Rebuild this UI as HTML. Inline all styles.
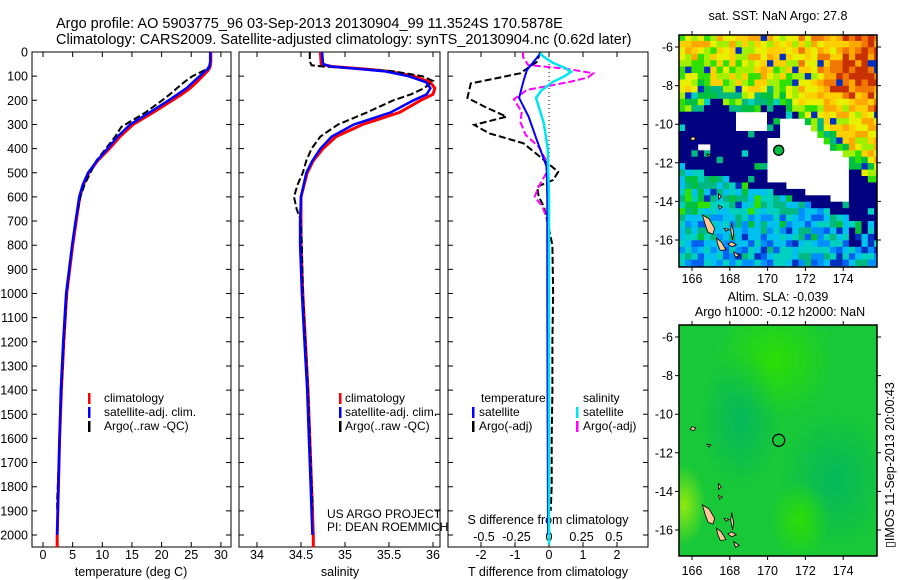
<!DOCTYPE html>
<html><head><meta charset="utf-8"><style>
body{margin:0;background:#fff}
svg{display:block;font-family:"Liberation Sans",Arial,sans-serif}
text{fill:#000}
</style></head><body>
<svg id="fig" width="900" height="580" viewBox="0 0 900 580">
<text x="56" y="28" font-size="14.5">Argo profile: AO 5903775_96 03-Sep-2013 20130904_99 11.3524S 170.5878E</text>
<text x="56" y="44" font-size="14.5">Climatology: CARS2009. Satellite-adjusted climatology: synTS_20130904.nc (0.62d later)</text>
<text x="778" y="20" font-size="12.5" text-anchor="middle">sat. SST: NaN Argo: 27.8</text>
<text x="778" y="301" font-size="12.5" text-anchor="middle">Altim. SLA: -0.039</text>
<text x="780" y="316" font-size="12.5" text-anchor="middle">Argo h1000: -0.12 h2000: NaN</text>
<text transform="translate(894,548) rotate(-90)" font-size="12.5">▯IMOS 11-Sep-2013 20:00:43</text>
</svg>
<script>
// ---- profile data ----
const tClimP=[0,20,40,60,70,80,100,125,150,175,200,250,300,350,400,450,500,550,600,700,800,900,1000,1200,1400,1600,1800,2000,2050];
const tClim=[28.3,28.3,28.3,28.2,28.0,27.7,26.9,25.9,24.8,23.4,21.8,18.6,15.2,13.0,11.2,9.2,7.7,6.8,6.2,5.6,5.0,4.5,4.0,3.5,3.1,2.8,2.6,2.4,2.4];
const tSatP=[0,20,40,60,70,80,100,125,150,175,200,250,300,350,400,450,500,550,600,700,800,900,1000,1200,1400,1600,1800,2000];
const tSat=[28.2,28.2,28.2,28.1,27.8,27.3,26.4,25.3,24.2,22.7,21.2,18.0,14.7,12.6,10.9,9.1,7.6,6.7,6.1,5.5,4.9,4.4,3.9,3.4,3.0,2.8,2.6,2.4];
const tArgoP=[0,20,40,60,70,80,100,125,150,175,200,250,290,310,350,400,450,500,550,600,650,700,800,1000,1200,1400,1600,1800,1850,1900];
const tArgo=[28.2,28.2,28.2,28.0,27.6,26.9,25.2,23.8,22.6,21.4,20.1,17.3,14.6,13.2,12.2,10.6,9.0,8.0,7.0,6.3,5.9,5.5,4.9,4.0,3.5,3.1,2.8,2.5,2.4,2.4];
const sClimP=[0,50,60,70,80,100,125,150,175,200,250,300,350,400,450,500,600,700,800,1000,1200,1400,1600,1800,2000,2050];
const sClim=[34.72,34.73,34.85,35.2,35.5,35.78,35.97,36.02,36.0,35.86,35.62,35.2,34.9,34.75,34.64,34.57,34.5,34.5,34.5,34.52,34.55,34.58,34.6,34.62,34.64,34.64];
const sSatP=[0,50,60,70,80,100,125,150,175,200,250,300,350,400,450,500,600,700,800,1000,1200,1400,1600,1800,2000];
const sSat=[34.74,34.75,34.84,35.15,35.45,35.72,35.92,35.97,35.93,35.78,35.52,35.1,34.85,34.72,34.63,34.56,34.5,34.49,34.49,34.51,34.54,34.57,34.59,34.61,34.63];
const sArgoP=[0,40,55,60,70,80,100,120,150,175,200,250,300,350,400,450,500,550,600,650,700,800,1000,1200,1400,1600,1800,1850,1900];
const sArgo=[34.6,34.6,34.62,34.75,35.2,35.55,35.88,36.0,35.9,35.75,35.55,35.25,34.92,34.72,34.62,34.56,34.52,34.46,34.42,34.45,34.5,34.51,34.52,34.55,34.58,34.6,34.62,34.63,34.63];
const dTSatP=[10,40,75,120,190,268,364,475,600,800,1000,1500,2000];
const dTSat=[-0.27,-0.45,-0.65,-0.75,-0.88,-0.6,-0.36,-0.07,-0.05,-0.05,-0.05,-0.04,-0.03];
const dSSatP=[5,20,45,65,82,100,124,160,190,295,400,600,1000,1500,2040];
const dSSat=[-0.07,-0.04,0.03,0.12,0.17,0.12,0.03,-0.06,-0.1,-0.04,-0.01,0,0,0,0];
const dSArgoP=[0,20,54,70,88,105,124,157,196,248,290,343,392,450,500,558,600,640,700,1000,1400,1900];
const dSArgo=[-0.2,-0.2,-0.16,0.14,0.34,0.3,0.16,-0.17,-0.27,-0.21,-0.22,-0.18,-0.08,-0.02,-0.02,-0.08,-0.11,-0.05,-0.01,0,0,0];
const dTArgoP=[0,40,88,110,130,190,226,268,302,337,378,433,496,530,558,600,640,700,800,1000,1200,1400,1600,1800,1900];
const dTArgo=[-0.26,-0.35,-0.85,-1.6,-2.3,-2.4,-1.9,-1.25,-2.2,-1.75,-0.75,-0.27,0.27,0.12,-0.35,-0.3,-0.15,-0.05,0.1,0.12,0.1,0.1,0.08,0.08,0.05];
const pTicks=[0,100,200,300,400,500,600,700,800,900,1000,1100,1200,1300,1400,1500,1600,1700,1800,1900,2000];
const tTicks=[0,5,10,15,20,25,30];
const sTicks=[34,34.5,35,35.5,36];
const sTickLabels=["34","34.5","35","35.5","36"];
const dTTicks=[-2,-1,0,1,2];
const dSTicks=[-0.5,-0.25,0,0.25,0.5];
const dSTickLabels=["-0.5","-0.25","0","0.25","0.5"];
const lonTicks=[166,168,170,172,174];
const latTicks=[-6,-8,-10,-12,-14,-16];
const argoLon=170.5878, argoLat=-11.3524;

const NS="http://www.w3.org/2000/svg";
const svg=document.getElementById('fig');
function mk(tag,attrs,parent){const e=document.createElementNS(NS,tag);for(const k in attrs)e.setAttribute(k,attrs[k]);(parent||svg).appendChild(e);return e;}
const TOP=52,BOT=547;
const yP=p=>TOP+p*0.2415;

function line(parent,P,V,xf,color,w,dash,name){
  let d='';for(let i=0;i<P.length;i++){d+=(i?'L':'M')+xf(V[i]).toFixed(1)+','+yP(P[i]).toFixed(1);}
  const e=mk('path',{d:d,fill:'none',stroke:color,'stroke-width':w,'stroke-dasharray':dash||'none'},parent);
  
  
  return e;
}
function panel(x0,x1,name){
  const g=mk('g',{});
  
  
  const r=mk('rect',{x:x0,y:TOP,width:x1-x0,height:BOT-TOP,fill:'#fff',stroke:'#000','stroke-width':1},g);
  
  
  pTicks.forEach(p=>{
    const t=mk('path',{d:`M${x0},${yP(p)}h5M${x1},${yP(p)}h-5`,stroke:'#000'},g);
    
    
  });
  return g;
}
function xTicks(g,vals,labels,xf,ly,tickTop,name){
  vals.forEach((v,i)=>{
    const t=mk('path',{d:`M${xf(v)},${BOT}v-5`+(tickTop?`M${xf(v)},${TOP}v5`:''),stroke:'#000'},g);
    
    
    const l=mk('text',{x:xf(v),y:ly,'font-size':12.5,'text-anchor':'middle'},g);
    l.textContent=labels[i];
    
    
  });
}
function label(g,x,y,txt,name,anchor,fs){
  const l=mk('text',{x:x,y:y,'font-size':fs||12.5,'text-anchor':anchor||'start'},g);
  l.textContent=txt;
  
  
}
function legBar(g,x,y,color,name){
  const b=mk('rect',{x:x,y:y-9,width:2.5,height:11,fill:color},g);
  
  
}
const DASH='7 3';
// Panel 1 temperature
const xT=t=>43+t*5.93;
const g1=panel(32,231,'temperature-panel');
pTicks.forEach(p=>{
  const l=mk('text',{x:28,y:yP(p)+4.5,'font-size':12.5,'text-anchor':'end'},g1);
  l.textContent=String(p);
  
  
});
xTicks(g1,tTicks,tTicks.map(String),xT,559,true,'temperature');
label(g1,131,576,'temperature (deg C)','temperature-axis-title','middle');
line(g1,tClimP,tClim,xT,'#ff0000',3,null,'temperature-climatology-line');
line(g1,tArgoP,tArgo,xT,'#000',2,DASH,'temperature-argo-line');
line(g1,tSatP,tSat,xT,'#0000ff',2.5,null,'temperature-satellite-line');
legBar(g1,88,402,'#ff0000','legend-climatology-swatch');label(g1,104,402,'climatology','legend-climatology',null,12);
legBar(g1,88,416,'#0000ff','legend-satellite-swatch');label(g1,104,416,'satellite-adj. clim.','legend-satellite',null,12);
legBar(g1,88,430,'#000','legend-argo-swatch');label(g1,104,430,'Argo(..raw -QC)','legend-argo',null,12);
// Panel 2 salinity
const xS=s=>257+(s-34)*88;
const g2=panel(239,440,'salinity-panel');
xTicks(g2,sTicks,sTickLabels,xS,559,true,'salinity');
label(g2,340,576,'salinity','salinity-axis-title','middle');
line(g2,sClimP,sClim,xS,'#ff0000',3,null,'salinity-climatology-line');
line(g2,sArgoP,sArgo,xS,'#000',2,DASH,'salinity-argo-line');
line(g2,sSatP,sSat,xS,'#0000ff',2.5,null,'salinity-satellite-line');
legBar(g2,339,402,'#ff0000','legend2-climatology-swatch');label(g2,345,402,'climatology','legend2-climatology',null,12);
legBar(g2,339,416,'#0000ff','legend2-satellite-swatch');label(g2,345,416,'satellite-adj. clim.','legend2-satellite',null,12);
legBar(g2,339,430,'#000','legend2-argo-swatch');label(g2,345,430,'Argo(..raw -QC)','legend2-argo',null,12);
// Panel 3 differences
const xDT=d=>549+d*34;
const xDS=d=>549+d*130;
const g3=panel(448,648,'difference-panel');
xTicks(g3,dTTicks,dTTicks.map(String),xDT,559,true,'t-difference');
dSTicks.forEach((v,i)=>{label(g3,xDS(v),541,dSTickLabels[i],'s-difference-tick-label','middle');});
label(g3,548,524,'S difference from climatology','s-difference-axis-title','middle');
label(g3,548,576,'T difference from climatology','t-difference-axis-title','middle');
const zl=mk('path',{d:`M${xDT(0)},${TOP}V${BOT}`,stroke:'#000','stroke-dasharray':'1 3'},g3);


line(g3,dTArgoP,dTArgo,xDT,'#000',2,DASH,'t-diff-argo-line');
line(g3,dSArgoP,dSArgo,xDS,'#ff00ff',2,DASH,'s-diff-argo-line');
line(g3,dTSatP,dTSat,xDT,'#0000ff',2,null,'t-diff-satellite-line');
line(g3,dSSatP,dSSat,xDS,'#00e5ee',2.5,null,'s-diff-satellite-line');
label(g3,481,402,'temperature','legend3-temperature-heading',null,12);label(g3,583,402,'salinity','legend3-salinity-heading',null,12);
legBar(g3,472,416,'#0000ff','legend3-t-satellite-swatch');label(g3,479,416,'satellite','legend3-t-satellite',null,12);
legBar(g3,472,430,'#000','legend3-t-argo-swatch');label(g3,479,430,'Argo(-adj)','legend3-t-argo',null,12);
legBar(g3,576,416,'#00e5ee','legend3-s-satellite-swatch');label(g3,583,416,'satellite','legend3-s-satellite',null,12);
legBar(g3,576,430,'#ff00ff','legend3-s-argo-swatch');label(g3,583,430,'Argo(-adj)','legend3-s-argo',null,12);
// project labels on top of panels
label(svg,327,518,'US ARGO PROJECT','project-label',null,12);
label(svg,327,531,'PI: DEAN ROEMMICH','pi-label',null,12);

// ---- maps ----
const PAL=['#000080','#0030c0','#0060f0','#0090ff','#00c0f0','#00d0c0','#00b880','#00c040','#30e000','#a0f000','#e8f000','#ffd000','#ffa800','#f07800','#c83000'];
function hash(i,j){let h=(i*374761393+j*668265263)|0;h=(h^(h>>>13))*1274126177|0;return ((h^(h>>>16))>>>0)/4294967295;}
function mapFrame(x0,y0,x1,y1,lat6,lat16,name,lonLabY){
  const g=mk('g',{});
  
  
  const lx=lon=>692+(lon-166)*18.9;
  const ly=lat=>lat6+(-6-lat)*(lat16-lat6)/10;
  return {g,lx,ly,x0,y0,x1,y1,lonLabY};
}
function mapAxes(m){
  const r=mk('rect',{x:m.x0,y:m.y0,width:m.x1-m.x0,height:m.y1-m.y0,fill:'none',stroke:'#000','stroke-width':1.5},m.g);
  
  
  lonTicks.forEach(v=>{
    const t=mk('path',{d:`M${m.lx(v)},${m.y0}v-4M${m.lx(v)},${m.y1}v4`,stroke:'#000'},m.g);
    
    
    label(m.g,m.lx(v),m.lonLabY,String(v),'lon-tick-label','middle');
  });
  latTicks.forEach(v=>{
    const t=mk('path',{d:`M${m.x0},${m.ly(v)}h-4M${m.x1},${m.ly(v)}h4`,stroke:'#000'},m.g);
    
    
    label(m.g,673,m.ly(v)+4.5,String(v),'lat-tick-label','end');
  });
}
const islands=[
 [[166.55,-14.7],[166.9,-14.9],[167.2,-15.4],[167.1,-15.7],[166.85,-15.6],[166.7,-15.2]],
 [[167.3,-15.9],[167.55,-16.1],[167.8,-16.5],[167.5,-16.55],[167.35,-16.2]],
 [[168.1,-15.1],[168.2,-15.6],[168.15,-16.0],[168.05,-15.5]],
 [[168.1,-16.1],[168.35,-16.25],[168.1,-16.35],[167.9,-16.2]],
 [[168.2,-16.6],[168.5,-16.8],[168.3,-16.9]],
 [[166.0,-10.65],[166.2,-10.7],[166.1,-10.85],[165.9,-10.8]],
 [[167.4,-13.6],[167.55,-13.75],[167.4,-13.9]],[[167.4,-14.2],[167.6,-14.3],[167.45,-14.4]],
 [[166.8,-11.55],[167.0,-11.6],[166.9,-11.7]],[[167.7,-15.4],[167.95,-15.45],[167.8,-15.55]]
];
function drawIslands(m){
  islands.forEach(poly=>{
    const e=mk('polygon',{points:poly.map(p=>m.lx(p[0]).toFixed(1)+','+m.ly(p[1]).toFixed(1)).join(' '),fill:'#ffc896',stroke:'#000','stroke-width':0.8},m.g);
    
    
  });
}
// SST map
const m1=mapFrame(679,35,877,267,47,240,'sst-map',283);
mk('defs',{}).innerHTML='<clipPath id="c1"><rect x="679" y="35" width="198" height="232"/></clipPath><clipPath id="c2"><rect x="679" y="325" width="198" height="231"/></clipPath><radialGradient id="gA" cx="0.5" cy="0.5" r="0.5"><stop offset="0" stop-color="#00b464" stop-opacity="0.8"/><stop offset="1" stop-color="#00b464" stop-opacity="0"/></radialGradient><radialGradient id="gB" cx="0.5" cy="0.5" r="0.5"><stop offset="0" stop-color="#30e000" stop-opacity="0.9"/><stop offset="1" stop-color="#30e000" stop-opacity="0"/></radialGradient><radialGradient id="gC" cx="0.5" cy="0.5" r="0.5"><stop offset="0" stop-color="#90ea10" stop-opacity="1"/><stop offset="1" stop-color="#90ea10" stop-opacity="0"/></radialGradient>';
const cg=mk('g',{'clip-path':'url(#c1)'},m1.g);


mk('rect',{x:679,y:35,width:198,height:232,fill:'#fff'},cg);
const step=1/3;
for(let i=0;i<32;i++){for(let j=0;j<37;j++){
  const lon=165.3+i*step+step/2, lat=-5.35-j*step-step/2;
  const n=hash(i,j), n2=hash(i+99,j+7);
  const b1=lon<171?-9.1+0.3*Math.sin(lon*2):-9.1-(lon-171)*0.85;
  const b2=-12.3-(lon-166)*0.3;
  let v;
  if(lat>b1){
    v=0.6+(lat-b1)/3.2*0.12+(lon-166)/9*0.08+(n-0.5)*0.28;
    const dr=Math.hypot(lon-174,(lat+7.5)*1.2);
    if(dr<1.6)v+=0.18*(1.6-dr);
    if(lat<b1+0.8)v-=0.12;
    if(n2<0.05)v=0.05;
  }
  else if(lat>b2){
    const white=(lon>169.8&&lon<174.3&&lat<-9.6&&lat>b2+0.6&&!(lon<170.6&&lat>-10.6))||(lon>168.4&&lon<170&&lat<-9.3&&lat>-10.3)||(lon>166.3&&lon<166.9&&lat<-10.9&&lat>-11.4);
    if(white)continue;
    v=n2<0.1?0.3+n*0.25:0.0;
  } else {
    v=0.33+(n-0.5)*0.32+(lat>-14.8&&lat<-12.5&&lon<171?0.08:0)-(lat<-16?0.08:0);
    if(lon>174.3&&lat>-16.2&&n2<0.5)v=0.02;
    if(n2<0.06)v=0.08;
  }
  v=Math.max(0,Math.min(1,v));
  const c=PAL[Math.round(v*(PAL.length-1))];
  const x=m1.lx(lon-step/2), y=m1.ly(lat+step/2);
  const e=mk('rect',{x:x.toFixed(1),y:y.toFixed(1),width:6.8,height:7,fill:c},cg);
  
  
}}
drawIslands(m1);
const d1=mk('circle',{cx:m1.lx(argoLon),cy:m1.ly(argoLat),r:5,fill:'#00c040',stroke:'#000','stroke-width':1.3},m1.g);


mapAxes(m1);
// SLA map
const m2=mapFrame(679,325,877,556,337,530,'sla-map',575);
const sg=mk('g',{'clip-path':'url(#c2)'},m2.g);


mk('rect',{x:679,y:325,width:198,height:231,fill:'#18c838'},sg);
mk('ellipse',{cx:775,cy:360,rx:60,ry:60,fill:'url(#gB)'},sg);
mk('ellipse',{cx:835,cy:480,rx:55,ry:70,fill:'url(#gA)'},sg);
mk('ellipse',{cx:740,cy:420,rx:40,ry:70,fill:'url(#gA)'},sg);
mk('ellipse',{cx:684,cy:505,rx:22,ry:40,fill:'url(#gC)'},sg);
mk('ellipse',{cx:800,cy:520,rx:30,ry:40,fill:'url(#gB)'},sg);
drawIslands(m2);
const d2=mk('circle',{cx:m2.lx(argoLon),cy:m2.ly(argoLat),r:6,fill:'none',stroke:'#000','stroke-width':1.3},m2.g);


mapAxes(m2);
</script>
</body></html>
